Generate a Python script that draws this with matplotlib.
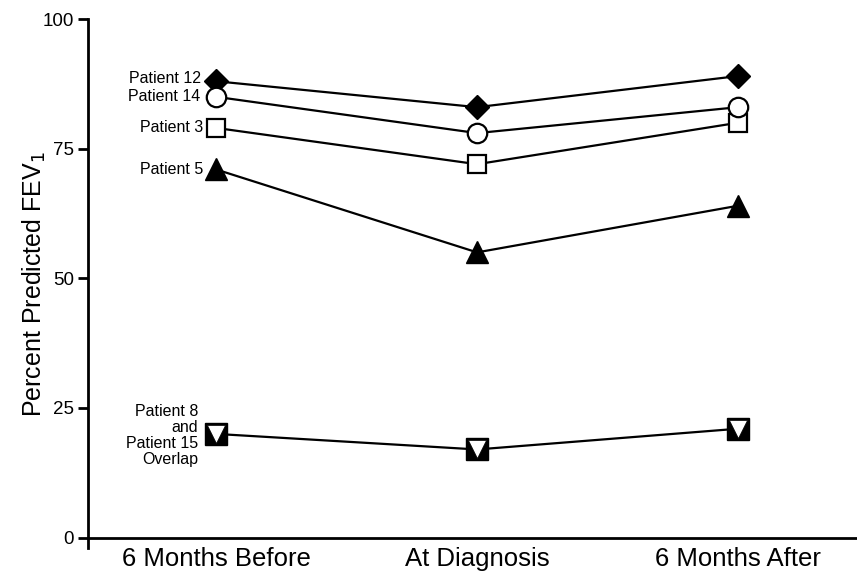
import matplotlib

matplotlib.use("Agg")
import matplotlib.pyplot as plt

plt.rcParams["font.family"] = ["Liberation Sans", "DejaVu Sans"]

timepoints = ["6 Months Before", "At Diagnosis", "6 Months After"]
patient_12 = [88, 83, 89]
patient_14 = [85, 78, 83]
patient_3 = [79, 72, 80]
patient_5 = [71, 55, 64]
patient_8_15 = [20, 17, 21]

x = list(range(len(timepoints)))

fig = plt.figure(figsize=(8.57, 5.71), dpi=100)
ax = fig.add_axes([88 / 857, 23 / 571, 1 - 88 / 857, 529 / 571])

# spine position first: moving it resets the tick setup
for side in ("top", "right"):
    ax.spines[side].set_visible(False)
ax.spines["left"].set_linewidth(2)
ax.spines["bottom"].set_linewidth(2)
ax.spines["bottom"].set_position(("data", 0))

lw = 1.6
ms = 14
ax.plot(x, patient_12, color="black", lw=lw, marker="D", ms=ms * 0.85,
        mfc="black", mec="black", zorder=3)
ax.plot(x, patient_14, color="black", lw=lw, marker="o", ms=ms,
        mfc="white", mec="black", mew=1.6, zorder=4)
ax.plot(x, patient_3, color="black", lw=lw, marker="s", ms=ms * 0.95,
        mfc="white", mec="black", mew=1.6, zorder=3)
ax.plot(x, patient_5, color="black", lw=lw, marker="^", ms=ms * 1.15,
        mfc="black", mec="black", zorder=3)
# patients 8 and 15 overlap: filled square with open down-triangle inside
ax.plot(x, patient_8_15, color="black", lw=lw, marker="s", ms=16.5,
        mfc="black", mec="black", zorder=3)
ax.plot(x, patient_8_15, ls="none", marker="v", ms=12.5,
        mfc="white", mec="black", mew=0.5, zorder=5)

labels = [
    ("Patient 12", patient_12[0] + 0.5, -11),
    ("Patient 14", patient_14[0], -11),
    ("Patient 3", patient_3[0], -9),
    ("Patient 5", patient_5[0], -9),
    ("Patient 8\nand\nPatient 15\nOverlap", patient_8_15[0] - 0.3, -13),
]
for text, yv, dx in labels:
    ax.annotate(text, xy=(0, yv), xytext=(dx, 0), textcoords="offset points",
                ha="right", va="center", fontsize=11.5, linespacing=1.1)

ax.set_xlim(-0.49, 2.455)
ax.set_ylim(-2, 100)
ax.set_yticks([0, 25, 50, 75, 100])
ax.set_xticks(x)
ax.set_xticklabels(timepoints)
ax.tick_params(axis="x", length=0, pad=7, labelsize=18.5)
ax.tick_params(axis="y", length=7, width=2, labelsize=13.5, pad=3)
ax.set_ylabel("Percent Predicted FEV$_1$", fontsize=18, labelpad=-4)

fig.savefig("out.png", dpi=100)
